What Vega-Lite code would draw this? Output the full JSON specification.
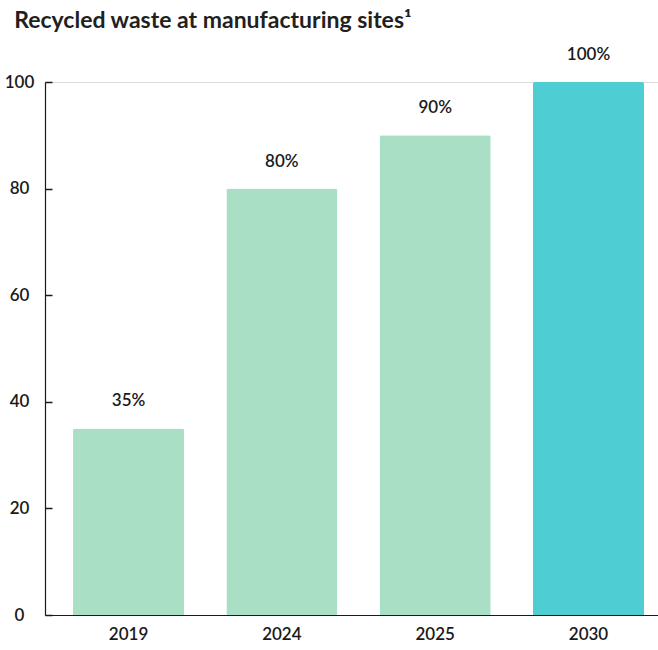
{
  "$schema": "https://vega.github.io/schema/vega-lite/v6.json",
  "width": 613,
  "height": 533,
  "autosize": "none",
  "padding": {"left": 45, "top": 82, "right": 0, "bottom": 35},
  "background": "white",
  "title": {
    "text": "Recycled waste at manufacturing sites¹",
    "anchor": "start",
    "frame": "bounds",
    "font": "Lato",
    "fontSize": 23,
    "fontWeight": "bold",
    "color": "#231f20",
    "dx": 10,
    "dy": -13,
    "offset": 0
  },
  "data": {
    "values": [
      {"year": "2019", "value": 35, "label": "35%", "kind": "actual"},
      {"year": "2024", "value": 80, "label": "80%", "kind": "actual"},
      {"year": "2025", "value": 90, "label": "90%", "kind": "actual"},
      {"year": "2030", "value": 100, "label": "100%", "kind": "target"}
    ]
  },
  "encoding": {
    "x": {
      "field": "year",
      "type": "nominal",
      "sort": null,
      "scale": {"paddingInner": 0.276, "paddingOuter": 0.137, "align": 0.667},
      "axis": {
        "title": null,
        "labelAngle": 0,
        "ticks": false,
        "labelPadding": 11,
        "labelFont": "Lato",
        "labelFontSize": 17,
        "labelFontWeight": 600,
        "labelColor": "#1a1a1a",
        "domainColor": "#1a1a1a",
        "domainWidth": 1.2
      }
    }
  },
  "layer": [
    {
      "mark": {"type": "bar", "cornerRadiusTopLeft": 2, "cornerRadiusTopRight": 2},
      "encoding": {
        "y": {
          "field": "value",
          "type": "quantitative",
          "scale": {"domain": [0, 100], "nice": false},
          "axis": {
            "title": null,
            "orient": "left",
            "values": [0, 20, 40, 60, 80, 100],
            "grid": false,
            "ticks": false,
            "domainColor": "#1a1a1a",
            "domainWidth": 1.2,
            "labelAlign": "center",
            "labelPadding": 26,
            "labelFont": "Lato",
            "labelFontSize": 17,
            "labelFontWeight": 600,
            "labelColor": "#1a1a1a"
          }
        },
        "color": {
          "field": "kind",
          "type": "nominal",
          "scale": {"domain": ["actual", "target"], "range": ["#a8dfc5", "#4ecdd2"]},
          "legend": null
        }
      }
    },
    {
      "mark": {
        "type": "text",
        "dy": -22,
        "baseline": "alphabetic",
        "font": "Lato",
        "fontSize": 17,
        "fontWeight": 600,
        "color": "#1a1a1a"
      },
      "encoding": {
        "y": {
          "field": "value",
          "type": "quantitative",
          "scale": {"domain": [0, 100], "nice": false},
          "axis": {
            "title": null,
            "orient": "right",
            "offset": -613,
            "values": [0, 20, 40, 60, 80, 100],
            "grid": false,
            "labels": true,
            "labelOpacity": 0,
            "domain": false,
            "ticks": true,
            "tickSize": 7,
            "tickColor": "#1a1a1a",
            "tickWidth": 1.5
          }
        },
        "text": {"field": "label"}
      }
    }
  ],
  "resolve": {"axis": {"y": "independent"}}
}
